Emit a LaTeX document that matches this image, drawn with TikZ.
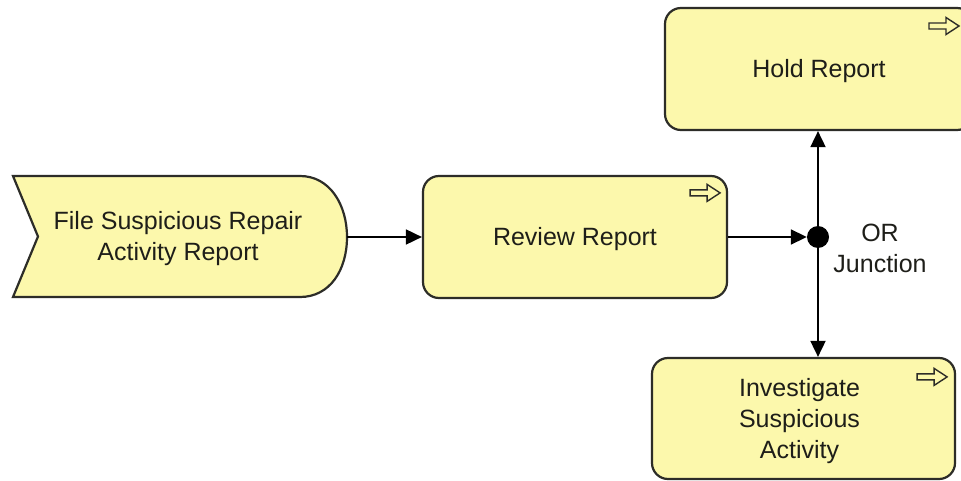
\documentclass[tikz,border=0pt]{standalone}
\usepackage{fontspec}
\setmainfont{Liberation Sans}
\usetikzlibrary{arrows.meta}
\definecolor{boxfill}{RGB}{252,248,172}
\definecolor{boxline}{RGB}{45,45,40}
\definecolor{txt}{RGB}{30,30,25}
\tikzset{
  lbl/.style={font=\fontsize{25}{31}\selectfont, text=txt, align=center},
  actbox/.style={draw=boxline, fill=boxfill, line width=2.2pt, rounded corners=16pt, inner sep=0pt},
  flow/.style={line width=1.8pt, draw=black, -{Triangle[length=16pt,width=15pt]}},
  actarrow/.pic={\draw[line width=1.4pt, draw=boxline, fill=boxfill, line join=miter]
     (-15,-3) -- (2,-3) -- (2,-8.5) -- (15,0) -- (2,8.5) -- (2,3) -- (-15,3) -- cycle;}
}
\begin{document}
\begin{tikzpicture}[x=1pt,y=-1pt]
\useasboundingbox[fill=white] (0,0) rectangle (961,481);
% event
\draw[draw=boxline, fill=boxfill, line width=2.2pt, line join=miter]
  (13,176) -- (300,176) .. controls (330,176) and (347,205) .. (347,237)
  .. controls (347,270) and (330,297) .. (300,297) -- (13,297) -- (38,236.5) -- cycle;
\node[lbl] (ev) at (178,239) {File Suspicious Repair\\Activity Report};
\coordinate (evR) at (347,237);
% activities
\node[actbox, minimum width=304pt, minimum height=122pt] (review) at (575,237) {};
\node[actbox, minimum width=308pt, minimum height=122pt] (hold) at (819,69) {};
\node[actbox, minimum width=303pt, minimum height=121pt] (inv) at (803.5,418.5) {};
\node[lbl] (reviewT) at ([yshift=-2.5pt]review.center) {Review Report};
\node[lbl] (holdT) at ([yshift=-2.5pt]hold.center) {Hold Report};
\node[lbl] (invT) at ([yshift=-2.5pt,xshift=-4pt]inv.center) {Investigate\\Suspicious\\Activity};
\pic at ([shift={(-23,18)}]review.north east) {actarrow};
\pic at (944,26) {actarrow};
\pic at ([shift={(-24,20)}]inv.north east) {actarrow};
% junction
\node[circle, fill=black, minimum size=22pt, inner sep=0pt] (junc) at (818,237) {};
\node[lbl] (orlbl) at (880,248) {OR\\Junction};
% connectors
\draw[flow] (evR) -- (review.west);
\draw[flow] (review.east) -- (junc.west);
\draw[flow] (junc.north) -- (junc |- hold.south);
\draw[flow] (junc.south) -- (junc |- inv.north);
\end{tikzpicture}
\end{document}
